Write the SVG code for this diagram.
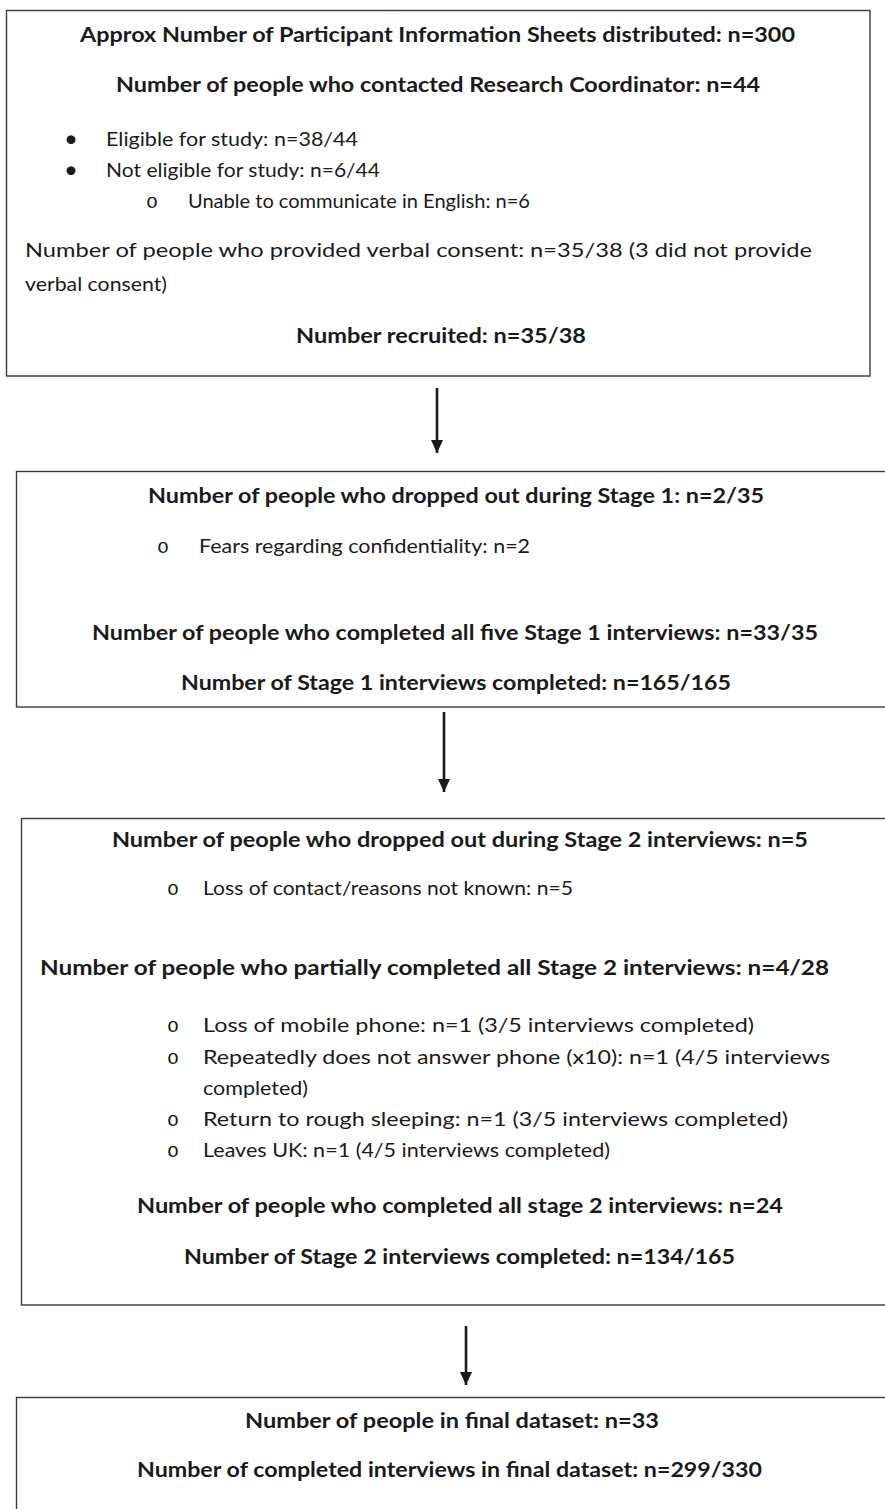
<svg xmlns="http://www.w3.org/2000/svg" width="885" height="1509" viewBox="0 0 885 1509">
<defs>
<style>
.box{fill:#fff;stroke:#3a3a3a;stroke-width:1.4}
text{font-family:Lato,"Open Sans","Liberation Sans",sans-serif;font-size:20px;fill:#1a1a1a}
.b{font-weight:bold}
.c{text-anchor:middle}
.d{font-size:24px}
.o{font-family:"Liberation Mono","DejaVu Sans Mono",monospace;font-size:20px}
.conn{stroke:#1a1a1a;stroke-width:2.6;fill:none}
</style>
<marker id="ah" viewBox="0 0 13 12" refX="13" refY="6" markerWidth="13" markerHeight="12" markerUnits="userSpaceOnUse" orient="auto">
<path d="M0,0 L13,6 L0,12 Z" fill="#1a1a1a"/>
</marker>
</defs>
<rect width="885" height="1509" fill="#fff"/>

<g id="node1">
<rect class="box" x="6.5" y="10.5" width="863.5" height="365.5"/>
<text class="b c" x="437.5" y="42" textLength="715" lengthAdjust="spacingAndGlyphs">Approx Number of Participant Information Sheets distributed: n=300</text>
<text class="b c" x="438" y="92" textLength="644" lengthAdjust="spacingAndGlyphs">Number of people who contacted Research Coordinator: n=44</text>
<text class="d" x="64" y="147">•</text>
<text x="106" y="146" textLength="252" lengthAdjust="spacingAndGlyphs">Eligible for study: n=38/44</text>
<text class="d" x="64" y="178">•</text>
<text x="106" y="177" textLength="274" lengthAdjust="spacingAndGlyphs">Not eligible for study: n=6/44</text>
<text class="o" x="146" y="208">o</text>
<text x="188" y="208" textLength="342" lengthAdjust="spacingAndGlyphs">Unable to communicate in English: n=6</text>
<text x="25" y="257" textLength="787" lengthAdjust="spacingAndGlyphs">Number of people who provided verbal consent: n=35/38 (3 did not provide</text>
<text x="25" y="291" textLength="142" lengthAdjust="spacingAndGlyphs">verbal consent)</text>
<text class="b c" x="441" y="343" textLength="290" lengthAdjust="spacingAndGlyphs">Number recruited: n=35/38</text>
</g>

<g id="node2">
<rect class="box" x="16.5" y="471.5" width="875" height="235.5"/>
<text class="b c" x="456" y="503" textLength="616" lengthAdjust="spacingAndGlyphs">Number of people who dropped out during Stage 1: n=2/35</text>
<text class="o" x="157" y="553">o</text>
<text x="199" y="553" textLength="331" lengthAdjust="spacingAndGlyphs">Fears regarding confidentiality: n=2</text>
<text class="b c" x="455" y="640" textLength="726" lengthAdjust="spacingAndGlyphs">Number of people who completed all five Stage 1 interviews: n=33/35</text>
<text class="b c" x="456" y="690" textLength="550" lengthAdjust="spacingAndGlyphs">Number of Stage 1 interviews completed: n=165/165</text>
</g>

<g id="node3">
<rect class="box" x="21.5" y="818.5" width="870" height="486.5"/>
<text class="b c" x="460" y="847" textLength="696" lengthAdjust="spacingAndGlyphs">Number of people who dropped out during Stage 2 interviews: n=5</text>
<text class="o" x="167" y="895">o</text>
<text x="203" y="895" textLength="370" lengthAdjust="spacingAndGlyphs">Loss of contact/reasons not known: n=5</text>
<text class="b" x="40" y="975" textLength="789" lengthAdjust="spacingAndGlyphs">Number of people who partially completed all Stage 2 interviews: n=4/28</text>
<text class="o" x="167" y="1032">o</text>
<text x="203" y="1032" textLength="551" lengthAdjust="spacingAndGlyphs">Loss of mobile phone: n=1 (3/5 interviews completed)</text>
<text class="o" x="167" y="1064">o</text>
<text x="203" y="1064" textLength="627" lengthAdjust="spacingAndGlyphs">Repeatedly does not answer phone (x10): n=1 (4/5 interviews</text>
<text x="203" y="1095" textLength="105" lengthAdjust="spacingAndGlyphs">completed)</text>
<text class="o" x="167" y="1126">o</text>
<text x="203" y="1126" textLength="585" lengthAdjust="spacingAndGlyphs">Return to rough sleeping: n=1 (3/5 interviews completed)</text>
<text class="o" x="167" y="1157">o</text>
<text x="203" y="1157" textLength="407" lengthAdjust="spacingAndGlyphs">Leaves UK: n=1 (4/5 interviews completed)</text>
<text class="b c" x="460" y="1213" textLength="646" lengthAdjust="spacingAndGlyphs">Number of people who completed all stage 2 interviews: n=24</text>
<text class="b c" x="459.5" y="1264" textLength="551" lengthAdjust="spacingAndGlyphs">Number of Stage 2 interviews completed: n=134/165</text>
</g>

<g id="node4">
<rect class="box" x="16.5" y="1397.5" width="875" height="130"/>
<text class="b c" x="452" y="1428" textLength="414" lengthAdjust="spacingAndGlyphs">Number of people in final dataset: n=33</text>
<text class="b c" x="449.5" y="1477" textLength="625" lengthAdjust="spacingAndGlyphs">Number of completed interviews in final dataset: n=299/330</text>
</g>

<g id="connectors">
<line class="conn" x1="437" y1="388" x2="437" y2="453" marker-end="url(#ah)"/>
<line class="conn" x1="444" y1="712" x2="444" y2="792" marker-end="url(#ah)"/>
<line class="conn" x1="466" y1="1326" x2="466" y2="1385" marker-end="url(#ah)"/>
</g>
</svg>
